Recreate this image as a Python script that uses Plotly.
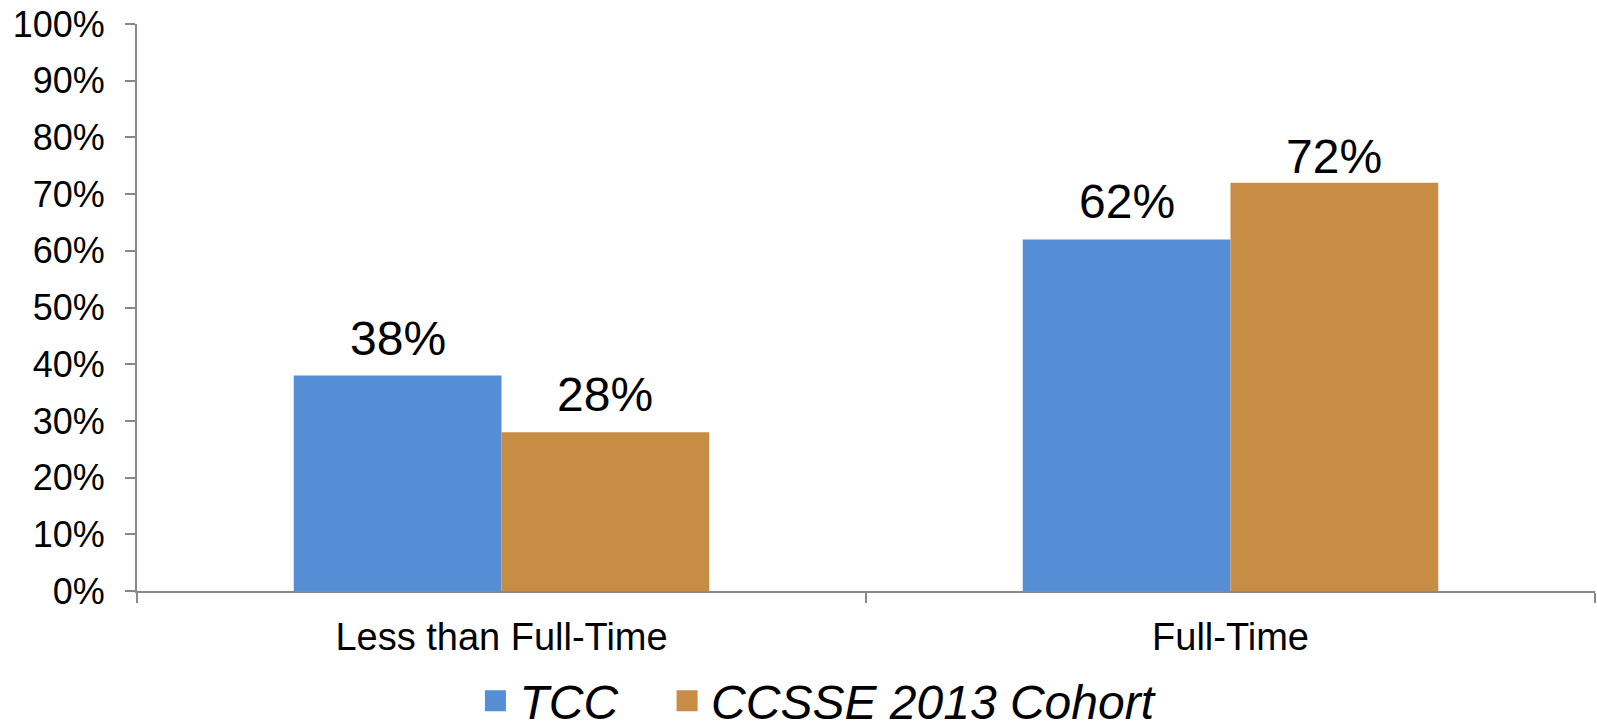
import plotly.graph_objects as go

categories = ["Less than Full-Time", "Full-Time"]
tcc = [38, 62]
ccsse = [28, 72]
series_names = ["TCC", "CCSSE 2013 Cohort"]
colors = ["#558ED5", "#C88D44"]
y_ticks = list(range(0, 101, 10))
y_tick_text = [f"{v}%" for v in y_ticks]

FONT = "Liberation Sans, Arial, sans-serif"
AXIS_GRAY = "#898989"

bar_w = 0.285
fig = go.Figure()
fig.add_trace(go.Bar(x=categories, y=tcc, name=series_names[0], showlegend=False,
                     legendgroup="tcc",
                     marker=dict(color=colors[0], line=dict(width=0)),
                     width=bar_w, offset=-bar_w))
fig.add_trace(go.Bar(x=categories, y=ccsse, name=series_names[1], showlegend=False,
                     legendgroup="ccsse",
                     marker=dict(color=colors[1], line=dict(width=0)),
                     width=bar_w, offset=0))

# legend keys: larger square swatches than the default bar key
for name, color, group, pad in [(series_names[0], colors[0], "tcc", "\u00a0\u00a0\u00a0"),
                                (series_names[1], colors[1], "ccsse", "")]:
    fig.add_trace(go.Scatter(x=[None], y=[None], mode="markers", name=name + pad,
                             legendgroup=group, showlegend=True, hoverinfo="skip",
                             marker=dict(symbol="square", size=16, color=color,
                                         line=dict(width=5, color=color))))

# value labels above each bar (the tallest one sits a little closer)
def label_shift(v):
    return -2 if v >= 70 else 9

for i, v in enumerate(tcc):
    fig.add_annotation(x=i - bar_w / 2, y=v, xref="x", yref="y", text=f"{v}%",
                       showarrow=False, yanchor="bottom", yshift=label_shift(v),
                       font=dict(family=FONT, size=48, color="black"))
for i, v in enumerate(ccsse):
    fig.add_annotation(x=i + bar_w / 2, y=v, xref="x", yref="y", text=f"{v}%",
                       showarrow=False, yanchor="bottom", yshift=label_shift(v),
                       font=dict(family=FONT, size=48, color="black"))

fig.update_layout(
    width=1597, height=727,
    margin=dict(l=137, r=2, t=24, b=136, autoexpand=False),
    paper_bgcolor="white", plot_bgcolor="white",
    font=dict(family=FONT, color="black"),
    bargap=0.43,
    showlegend=True,
    legend=dict(orientation="h", x=0.466, xanchor="center", y=-0.194, yanchor="middle",
                font=dict(family=FONT, size=48, color="black", style="italic"),
                itemsizing="trace", itemwidth=38, tracegroupgap=0,
                bgcolor="rgba(0,0,0,0)"),
)
fig.update_xaxes(type="category", showgrid=False, showline=True, linecolor=AXIS_GRAY,
                 linewidth=2, ticks="outside", tickson="boundaries", ticklen=10,
                 tickcolor=AXIS_GRAY, tickwidth=2, ticklabelstandoff=11,
                 tickfont=dict(family=FONT, size=38, color="black"))
fig.update_yaxes(range=[0, 100], tickvals=y_ticks, ticktext=y_tick_text, showgrid=False,
                 zeroline=False, showline=True, linecolor=AXIS_GRAY, linewidth=2,
                 ticks="outside", ticklen=10, tickcolor=AXIS_GRAY, tickwidth=2,
                 ticklabelstandoff=13,
                 tickfont=dict(family=FONT, size=36, color="black"))

fig.write_html("out.html")
